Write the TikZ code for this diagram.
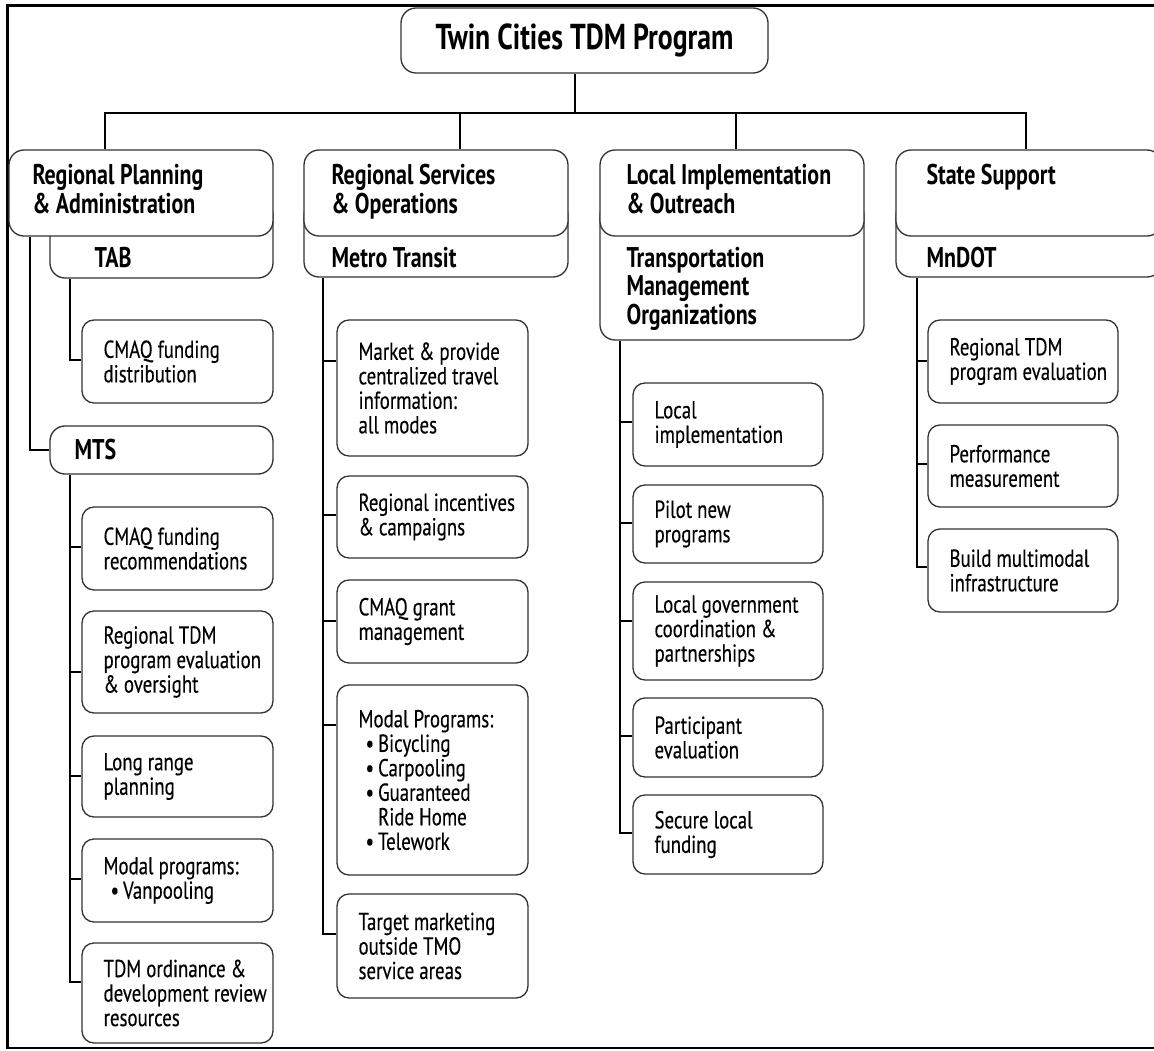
\documentclass[tikz,border=0pt]{standalone}
\usepackage{fontspec}
\setmainfont{PT Sans}[FakeStretch=0.77, UprightFeatures={FakeBold=0.3}]
\newcommand\itm{\hspace*{7pt}\textbullet\hspace{4pt}}
\newcommand\itmb{\hspace*{7pt}\phantom{\textbullet}\hspace{4pt}}
\newcommand\leaf[7]{%
  \node[box, minimum width={(#4)-(#2)}, minimum height={(#5)-(#3)}] (#1) at ({((#2)+(#4))/2},{((#3)+(#5))/2}) {};
  \node[txt] (#1-t) at ([xshift=22pt]#1.west) {#7};
  \coordinate (#1-c) at ([yshift=-#6pt]#1.north west);
}
\begin{document}
\begin{tikzpicture}[x=1pt,y=-1pt,
  box/.style={draw=black!80, line width=1.3pt, rounded corners=12pt, fill=white, inner sep=0pt},
  hbox/.style={box, rounded corners=15pt},
  txt/.style={anchor=west, align=left, inner sep=0pt, font=\fontsize{24.5}{24.5}\selectfont},
  htxt/.style={anchor=north west, align=left, inner sep=0pt, font=\bfseries\fontsize{28.5}{28.5}\selectfont},
  stxt/.style={anchor=west, align=left, inner sep=0pt, font=\bfseries\fontsize{28.5}{28.5}\selectfont},
  conn/.style={draw=black, line width=2pt}]
\useasboundingbox (0,0) rectangle (1154,1051);
\clip (0,0) rectangle (1154,1051);
% frame
\draw[line width=2.5pt] (1160,5.5) -- (7.5,5.5) -- (7.5,1048) -- (1160,1048);
% trunk x positions
\coordinate (x1) at (30,0);
\coordinate (x2) at (70,0);
\coordinate (x3) at (323,0);
\coordinate (x4) at (620,0);
\coordinate (x5) at (917,0);
\coordinate (k0) at (575,113);
\coordinate (k1) at (105,113);
\coordinate (k2) at (460,113);
\coordinate (k3) at (736,113);
\coordinate (k4) at (1026,113);
% title
\node[hbox, minimum width=367, minimum height=65, font=\bfseries\fontsize{36}{38}\selectfont] (title) at (584.5,40.5) {Twin Cities TDM Program};
% sub boxes
\node[hbox, minimum width=223, minimum height=78] (tab) at (161.5,239) {};
\node[hbox, minimum width=264, minimum height=77] (metro) at (436,238.5) {};
\node[hbox, minimum width=264, minimum height=140] (tmo) at (732,270) {};
\node[hbox, minimum width=266, minimum height=77] (mndot) at (1029,238.5) {};
% headers
\node[hbox, minimum width=264, minimum height=86] (h1) at (141,193) {};
\node[hbox, minimum width=264, minimum height=86] (h2) at (436,193) {};
\node[hbox, minimum width=264, minimum height=86] (h3) at (732,193) {};
\node[hbox, minimum width=266, minimum height=86] (h4) at (1029,193) {};
\node[htxt] (h1-t) at ([xshift=24pt,yshift=-15pt]h1.north west) {Regional Planning\\\& Administration};
\node[htxt] (h2-t) at ([xshift=28pt,yshift=-15pt]h2.north west) {Regional Services\\\& Operations};
\node[htxt] (h3-t) at ([xshift=27pt,yshift=-15pt]h3.north west) {Local Implementation\\\& Outreach};
\node[htxt] (h4-t) at ([xshift=31pt,yshift=-15pt]h4.north west) {State Support};
\node[stxt] (tab-t) at ([xshift=45pt,yshift=21pt]tab.south west) {TAB};
\node[stxt] (metro-t) at ([xshift=28pt,yshift=20pt]metro.south west) {Metro Transit};
\node[stxt] (tmo-t) at ([xshift=27pt,yshift=52pt]tmo.south west) {Transportation\\Management\\Organizations};
\node[stxt] (mndot-t) at ([xshift=31pt,yshift=20pt]mndot.south west) {MnDOT};
% MTS
\node[hbox, minimum width=223, minimum height=48] (mts) at (161.5,450) {};
\node[stxt] (mts-t) at ([xshift=25pt]mts.west) {MTS};
% column 1 leaves
\leaf{a1}{82}{320}{273}{403}{41}{CMAQ funding\\distribution}
\leaf{a2}{82}{507}{273}{590}{41}{CMAQ funding\\recommendations}
\leaf{a3}{82}{611}{273}{713}{62}{Regional TDM\\program evaluation\\\& oversight}
\leaf{a4}{82}{736}{273}{817}{41}{Long range\\planning}
\leaf{a5}{82}{839}{273}{922}{41}{Modal programs:\\\itm Vanpooling}
\leaf{a6}{82}{943}{273}{1043}{40}{TDM ordinance \&\\development review\\resources}
% column 2 leaves
\leaf{b1}{337}{320}{528}{456}{42}{Market \& provide\\centralized travel\\information:\\all modes}
\leaf{b2}{337}{476}{528}{558}{40}{Regional incentives\\\& campaigns}
\leaf{b3}{337}{580}{528}{663}{42}{CMAQ grant\\management}
\leaf{b4}{337}{685}{528}{875}{41}{Modal Programs:\\\itm Bicycling\\\itm Carpooling\\\itm Guaranteed\\\itmb Ride Home\\\itm Telework}
\leaf{b5}{337}{894}{528}{998}{41}{Target marketing\\outside TMO\\service areas}
% column 3 leaves
\leaf{c1}{633}{383}{823}{466}{40}{Local\\implementation}
\leaf{c2}{633}{485}{823}{563}{39}{Pilot new\\programs}
\leaf{c3}{633}{582}{823}{680}{40}{Local government\\coordination \&\\partnerships}
\leaf{c4}{633}{698}{823}{777}{39}{Participant\\evaluation}
\leaf{c5}{633}{795}{823}{874}{39}{Secure local\\funding}
% column 4 leaves
\leaf{d1}{928}{320}{1118}{403}{42}{Regional TDM\\program evaluation}
\leaf{d2}{928}{425}{1118}{507}{40}{Performance\\measurement}
\leaf{d3}{928}{529}{1118}{612}{39}{Build multimodal\\infrastructure}
% connectors
\draw[conn] (title.south -| k0) -- (k0);
\draw[conn] (h1.north -| k1) -- (k1) -- (k4) -- (h4.north -| k4);
\draw[conn] (k2) -- (h2.north -| k2);
\draw[conn] (k3) -- (h3.north -| k3);
\draw[conn] (h1.south -| x1) |- (mts.west);
\draw[conn] (tab.south -| x2) |- (a1-c);
\draw[conn] (mts.south -| x2) |- (a6-c);
\foreach \n in {a2,a3,a4,a5} \draw[conn] (x2 |- \n-c) -- (\n-c);
\draw[conn] (metro.south -| x3) |- (b5-c);
\foreach \n in {b1,b2,b3,b4} \draw[conn] (x3 |- \n-c) -- (\n-c);
\draw[conn] (tmo.south -| x4) |- (c5-c);
\foreach \n in {c1,c2,c3,c4} \draw[conn] (x4 |- \n-c) -- (\n-c);
\draw[conn] (mndot.south -| x5) |- (d3-c);
\foreach \n in {d1,d2} \draw[conn] (x5 |- \n-c) -- (\n-c);
\end{tikzpicture}
\end{document}
